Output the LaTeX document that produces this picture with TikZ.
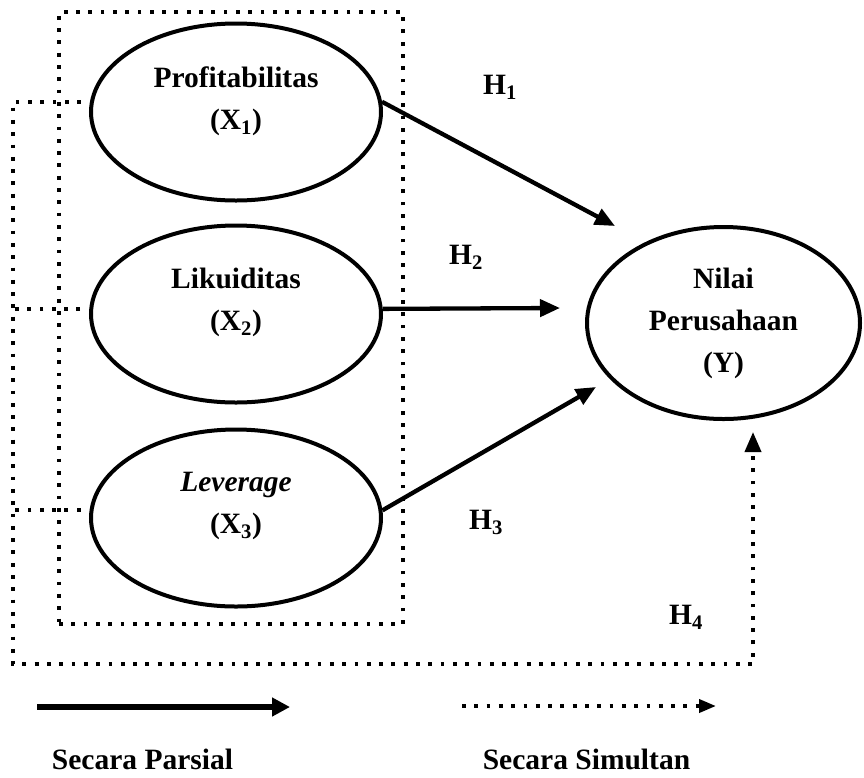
\documentclass[tikz,border=0pt]{standalone}
\usepackage{fontspec}
\setmainfont{Liberation Serif}
\usetikzlibrary{arrows.meta,shapes.geometric}

\begin{document}
\begin{tikzpicture}[x=1pt, y=-1pt,
                    var node/.style={ellipse,draw,line width=4pt,minimum width=290pt,minimum height=177pt},
                    txt node/.style={align=center,font=\fontsize{29.5}{42}\selectfont\bfseries},
                    partial/.style={line width=4.3pt,-{Triangle[length=20pt,width=17pt]}},
                    simul/.style={line width=3.8pt,line cap=butt,dash pattern=on 3.8pt off 8.5pt}]

  \useasboundingbox (0,0) rectangle (864,777);

  % variables
  \node[var node] (p) at (236,112) {};
  \node[var node] (l) at (236,314) {};
  \node[var node] (v) at (236,518) {};
  \node[var node,txt node,minimum width=273pt,minimum height=192pt] (y) at (723.5,323) {Nilai\\Perusahaan\\(Y)};

  \node[txt node] (ptext) at ([yshift=11pt]p.center) {Profitabilitas\\(X\textsubscript{1})};
  \node[txt node] (ltext) at ([yshift=12pt]l.center) {Likuiditas\\(X\textsubscript{2})};
  \node[txt node] (vtext) at ([yshift=12pt]v.center) {\textit{Leverage}\\(X\textsubscript{3})};

  % group frame
  \node[draw,simul,inner sep=0pt,minimum width=344pt,minimum height=612pt] (grp) at (231,318) {};

  \coordinate (h1tip) at (615,226);
  \coordinate (h2tip) at (560,308);
  \coordinate (h3tip) at (596,387);
  \coordinate (h4tip) at (753,432);
  \coordinate (corner) at (13,664);

  % partial paths
  \draw[partial] (p.4) -- (h1tip);
  \draw[partial] (l.2) -- (h2tip);
  \draw[partial] (v.3) -- (h3tip);

  % simultaneous path
  \draw[simul,shorten <=9pt,-{Triangle[length=20pt,width=16pt]}] (p.176) -| (corner) -| (h4tip);
  \draw[simul,shorten <=9pt] (l.178) -- (l.178 -| corner);
  \draw[simul,shorten <=9pt] (v.177) -- (v.177 -| corner);

  \node[txt node] (h1) at (500,87) {H\textsubscript{1}};
  \node[txt node] (h2) at (466,257) {H\textsubscript{2}};
  \node[txt node] (h3) at (486,522) {H\textsubscript{3}};
  \node[txt node] (h4) at (686,617) {H\textsubscript{4}};

  % legend
  \coordinate (pstart) at (37,707);
  \coordinate (pend) at (290,707);
  \coordinate (sstart) at (462,706);
  \coordinate (send) at (716,706);
  \draw[line width=6pt,-{Triangle[length=18pt,width=18pt]}] (pstart) -- (pend);
  \draw[simul,-{Triangle[length=17pt,width=13pt]}] (sstart) -- (send);

  \node[txt node,anchor=base] (parsial) at (142.5,769) {Secara Parsial};
  \node[txt node,anchor=base] (simultan) at (586.5,769) {Secara Simultan};

\end{tikzpicture}
\end{document}
